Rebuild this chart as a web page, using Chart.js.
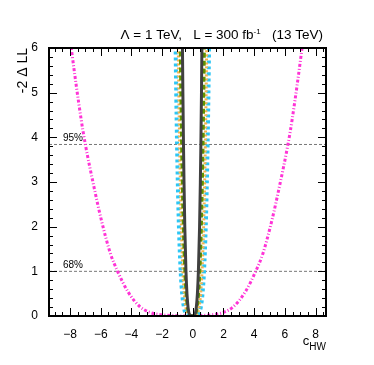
<!DOCTYPE html>
<html><head><meta charset="utf-8">
<script src="https://cdn.jsdelivr.net/npm/chart.js@4"></script>
<style>html,body{margin:0;padding:0;background:#fff}canvas{display:block}</style>
</head><body>
<canvas id="c" width="374" height="365"></canvas>
<script>
// ---- data ----
const xRange = [-9.37, 8.68];
const yRange = [0, 6];
const xTickValues = [-8, -6, -4, -2, 0, 2, 4, 6, 8];
const xTickLabels = ['\u22128', '\u22126', '\u22124', '\u22122', '0', '2', '4', '6', '8'];
const yTickValues = [0, 1, 2, 3, 4, 5, 6];
const yTickLabels = ['0', '1', '2', '3', '4', '5', '6'];
const clLevels = [1, 3.84];
const clLabels = ['68%', '95%'];

const magentaX = [-8.2, -7.92, -7.27, -7.0, -6.44, -5.96, -5.37, -4.9, -4.22, -3.45, -2.8, -2.1, -1.4, -0.4, 0.6, 1.3, 2.0, 2.65, 3.42, 4.1, 4.57, 5.16, 5.64, 6.2, 6.47, 7.12, 7.4];
const magentaY = [6.8, 6.0, 4.39, 3.84, 2.89, 2.15, 1.4, 1.0, 0.54, 0.21, 0.08, 0.03, 0.01, 0, 0.01, 0.03, 0.08, 0.21, 0.54, 1.0, 1.4, 2.15, 2.89, 3.84, 4.39, 6.0, 6.8];

const innerY  = [7, 6, 5, 3.84, 3, 2, 1, 0.5, 0.2, 0.05, 0, 0.05, 0.2, 0.5, 1, 2, 3, 3.84, 5, 6, 7];
const blackX  = [-0.699, -0.674, -0.646, -0.607, -0.573, -0.522, -0.445, -0.381, -0.311, -0.232, -0.04, 0.152, 0.231, 0.301, 0.365, 0.442, 0.493, 0.527, 0.566, 0.594, 0.619];
const greenX  = [-0.848, -0.815, -0.778, -0.728, -0.684, -0.618, -0.52, -0.438, -0.351, -0.253, -0.03, 0.193, 0.291, 0.378, 0.46, 0.558, 0.624, 0.668, 0.718, 0.755, 0.788];
const orangeX = [-0.975, -0.943, -0.907, -0.856, -0.811, -0.744, -0.64, -0.551, -0.453, -0.339, -0.02, 0.299, 0.413, 0.511, 0.60, 0.704, 0.771, 0.816, 0.867, 0.903, 0.935];
const cyanX   = [-1.152, -1.118, -1.079, -1.025, -0.977, -0.903, -0.79, -0.692, -0.581, -0.447, -0.03, 0.387, 0.521, 0.632, 0.73, 0.843, 0.917, 0.965, 1.019, 1.058, 1.092];

// ---- chart ----
const FONT = "'Liberation Sans', Arial, Helvetica, sans-serif";
Chart.defaults.font.family = FONT;
const pts = (xs, ys) => xs.map((x, i) => ({x: x, y: ys[i]}));
const curve = (xs, ys, color, width, dash) => ({
  data: pts(xs, ys), borderColor: color, borderWidth: width, borderDash: dash,
  borderCapStyle: 'butt', pointRadius: 0, fill: false,
  tension: 0.4, cubicInterpolationMode: 'monotone'
});

const datasets = [
  curve(blackX, innerY, '#404040', 3, []),
  curve(greenX, innerY, '#5f9400', 3, [5, 3]),
  curve(orangeX, innerY, '#f7b34f', 3, [2, 2]),
  curve(cyanX, innerY, '#2cc6f5', 4, [3, 3]),
  curve(magentaX, magentaY, '#ff33d6', 3, [3, 2, 1, 2])
];
clLevels.forEach(v => datasets.push({
  data: [{x: xRange[0], y: v}, {x: xRange[1], y: v}],
  borderColor: '#777777', borderWidth: 1, borderDash: [3, 2], pointRadius: 0, tension: 0
}));

const axisPlugin = {
  id: 'rootAxes',
  afterDatasetsDraw(chart) {
    const ctx = chart.ctx, a = chart.chartArea;
    const xs = chart.scales.x, ys = chart.scales.y;
    ctx.save();
    ctx.strokeStyle = '#000'; ctx.lineWidth = 1;
    ctx.beginPath();
    for (let v = -9; v <= 8.51; v += 0.5) {
      const px = Math.round(xs.getPixelForValue(v)) + 0.5;
      const major = Math.abs(v / 2 - Math.round(v / 2)) < 1e-6;
      const L = major ? 8 : 4;
      ctx.moveTo(px, a.bottom); ctx.lineTo(px, a.bottom - L);
      ctx.moveTo(px, a.top); ctx.lineTo(px, a.top + L);
    }
    for (let i = 0; i <= 30; i++) {
      const v = i * 0.2;
      const py = Math.round(ys.getPixelForValue(v)) + 0.5;
      const L = (i % 5 === 0) ? 8 : 4;
      ctx.moveTo(a.left, py); ctx.lineTo(a.left + L, py);
      ctx.moveTo(a.right, py); ctx.lineTo(a.right - L, py);
    }
    ctx.stroke();
    ctx.lineWidth = 2;
    ctx.strokeRect(a.left, a.top, a.right - a.left, a.bottom - a.top);
    ctx.restore();
  },
  afterDraw(chart) {
    const ctx = chart.ctx, a = chart.chartArea;
    const ys = chart.scales.y;
    ctx.save();
    ctx.fillStyle = '#000';
    // CL labels
    ctx.font = '10px ' + FONT;
    ctx.textAlign = 'left'; ctx.textBaseline = 'alphabetic';
    clLevels.forEach((v, i) => {
      ctx.fillText(clLabels[i], a.left + 14, ys.getPixelForValue(v) - 3);
    });
    // title
    const p1 = '\u039B = 1 TeV,   L = 300 fb', sup = '-1', p2 = '   (13 TeV)';
    const TF = '13.5px ' + FONT, SF = '8px ' + FONT;
    ctx.font = TF;
    const w1 = ctx.measureText(p1).width, w2 = ctx.measureText(p2).width;
    ctx.font = SF;
    const ws = ctx.measureText(sup).width;
    const x0 = a.right - 3 - (w1 + ws + w2);
    const base = 38.5;
    ctx.font = TF;
    ctx.fillText(p1, x0, base);
    ctx.font = SF;
    ctx.fillText(sup, x0 + w1, base - 5);
    ctx.font = TF;
    ctx.fillText(p2, x0 + w1 + ws, base);
    // x title c_HW
    ctx.font = '10px ' + FONT;
    const wHW = ctx.measureText('HW').width;
    ctx.fillText('HW', a.right - wHW, 349.5);
    ctx.font = '13px ' + FONT;
    const wc = ctx.measureText('c').width;
    ctx.fillText('c', a.right - wHW - wc, 345);
    // y title
    ctx.translate(23, a.top);
    ctx.rotate(-Math.PI / 2);
    ctx.font = '14px ' + FONT;
    ctx.textAlign = 'right'; ctx.textBaseline = 'middle';
    ctx.fillText('-2 \u0394 LL', 0, 0);
    ctx.restore();
  }
};

new Chart(document.getElementById('c'), {
  type: 'line',
  data: {datasets: datasets},
  options: {
    responsive: false, animation: false, devicePixelRatio: 1,
    layout: {padding: {top: 48, right: 48, left: 0, bottom: 0}},
    plugins: {legend: {display: false}, tooltip: {enabled: false}, title: {display: false}},
    scales: {
      x: {
        type: 'linear', min: xRange[0], max: xRange[1],
        grid: {display: false}, border: {display: false},
        afterBuildTicks: s => { s.ticks = xTickValues.map(v => ({value: v})); },
        afterFit: s => { s.height = 49; },
        ticks: {
          color: '#000', font: {size: 12}, padding: 3, maxRotation: 0, autoSkip: false,
          callback: v => { const i = xTickValues.indexOf(v); return i >= 0 ? xTickLabels[i] : ''; }
        }
      },
      y: {
        type: 'linear', min: yRange[0], max: yRange[1],
        grid: {display: false}, border: {display: false},
        afterBuildTicks: s => { s.ticks = yTickValues.map(v => ({value: v})); },
        afterFit: s => { s.width = 49; },
        ticks: {
          color: '#000', font: {size: 12}, padding: 3, autoSkip: false,
          callback: v => { const i = yTickValues.indexOf(v); return i >= 0 ? yTickLabels[i] : ''; }
        }
      }
    }
  },
  plugins: [axisPlugin]
});
</script>
</body></html>
